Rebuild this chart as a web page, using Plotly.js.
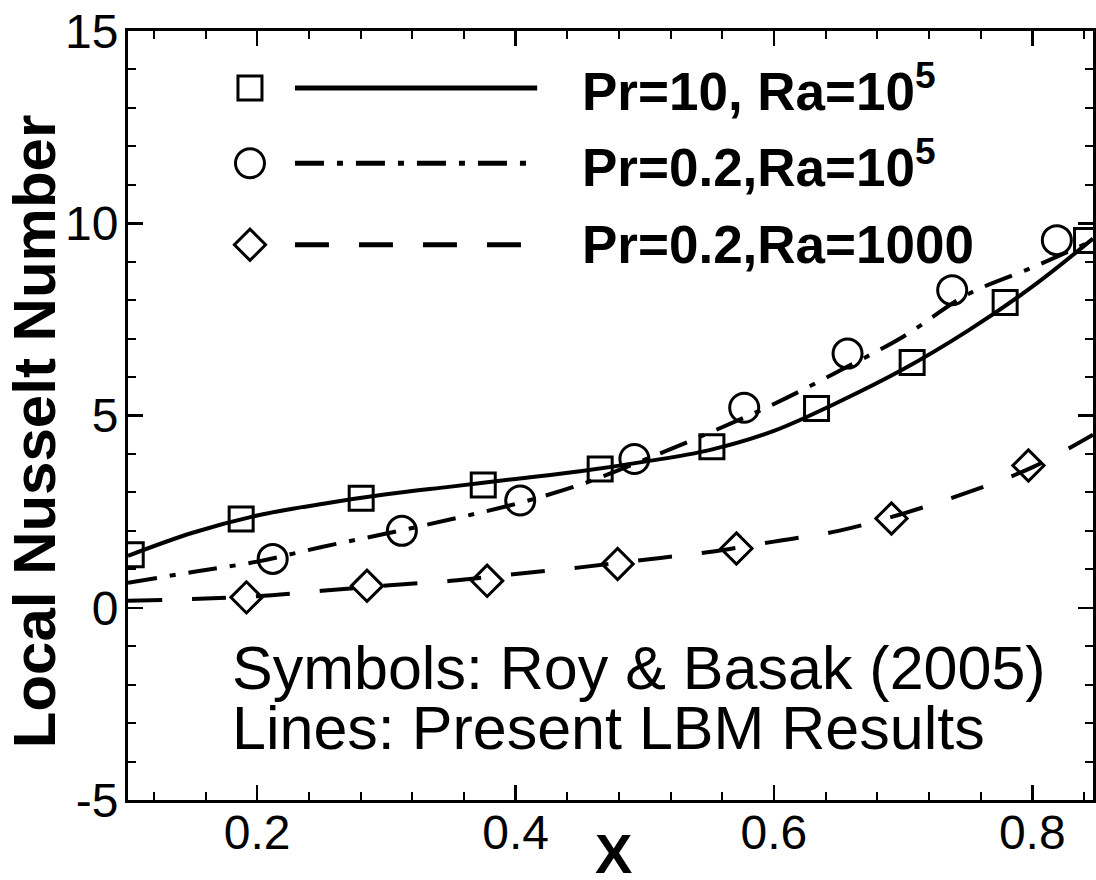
<!DOCTYPE html>
<html>
<head>
<meta charset="utf-8">
<script src="https://cdn.plot.ly/plotly-3.0.1.min.js"></script>
<style>html,body{margin:0;padding:0;background:#fff;}#chart{width:1096px;height:880px;}</style>
</head>
<body>
<div id="chart"></div>
<script>
// ---- data ----
const seriesNames = ['Pr=10, Ra=10<sup>5</sup>', 'Pr=0.2,Ra=10<sup>5</sup>', 'Pr=0.2,Ra=1000'];

// LBM lines (present results)
const lineX = [0.1, 0.15, 0.2, 0.25, 0.3, 0.35, 0.4, 0.45, 0.5, 0.55, 0.6, 0.65, 0.7, 0.75, 0.8, 0.847];
const linePr10Ra1e5 = [1.35, 1.95, 2.4, 2.7, 2.95, 3.15, 3.35, 3.55, 3.8, 4.1, 4.6, 5.35, 6.2, 7.2, 8.35, 9.6];
const linePr02Ra1e5 = [0.65, 0.93, 1.2, 1.58, 1.93, 2.3, 2.7, 3.2, 3.85, 4.55, 5.3, 6.15, 7.05, 8.15, 8.85, 9.55];
const linePr02Ra1e3 = [0.18, 0.23, 0.3, 0.44, 0.58, 0.7, 0.88, 1.05, 1.25, 1.45, 1.72, 2.0, 2.45, 3.0, 3.65, 4.5];

// Roy & Basak (2005) symbols
const squareX = [0.1025, 0.1876, 0.2805, 0.375, 0.4655, 0.552, 0.633, 0.707, 0.779, 0.842];
const squareY = [1.38, 2.31, 2.85, 3.19, 3.61, 4.19, 5.18, 6.38, 7.94, 9.55];
const circleX = [0.212, 0.312, 0.4036, 0.492, 0.577, 0.657, 0.738, 0.819];
const circleY = [1.27, 2.0, 2.79, 3.87, 5.2, 6.61, 8.26, 9.56];
const diamondX = [0.1917, 0.285, 0.378, 0.479, 0.571, 0.691, 0.797];
const diamondY = [0.27, 0.57, 0.70, 1.14, 1.54, 2.32, 3.70];

// ticks
const xTickVals = [0.2, 0.4, 0.6, 0.8];
const xTickText = ['0.2', '0.4', '0.6', '0.8'];
const yTickVals = [-5, 0, 5, 10, 15];
const yTickText = ['-5', '0', '5', '10', '15'];

// ---- styles ----
const FONT = 'Liberation Sans, Arial, Helvetica, sans-serif';
const lineW = 4;
const dashDot = '29px,13px,6px,13px';
const dashed = '34px,30px';
const symbols = ['square-open', 'circle-open', 'diamond-open'];
const symSizes = [24, 29, 24];
const dashes = ['solid', dashDot, dashed];

const traces = [
  {x: lineX, y: linePr10Ra1e5, mode: 'lines', line: {color: '#000', width: lineW, dash: 'solid', shape: 'spline', smoothing: 1}, showlegend: false, hoverinfo: 'skip'},
  {x: lineX, y: linePr02Ra1e5, mode: 'lines', line: {color: '#000', width: lineW, dash: dashDot, shape: 'spline', smoothing: 1}, showlegend: false, hoverinfo: 'skip'},
  {x: lineX, y: linePr02Ra1e3, mode: 'lines', line: {color: '#000', width: lineW, dash: dashed, shape: 'spline', smoothing: 1}, showlegend: false, hoverinfo: 'skip'},
  {x: squareX, y: squareY, mode: 'markers', marker: {symbol: symbols[0], size: symSizes[0], color: '#000', line: {width: 3, color: '#000'}}, showlegend: false},
  {x: circleX, y: circleY, mode: 'markers', marker: {symbol: symbols[1], size: symSizes[1], color: '#000', line: {width: 3, color: '#000'}}, showlegend: false},
  {x: diamondX, y: diamondY, mode: 'markers', marker: {symbol: symbols[2], size: symSizes[2], color: '#000', line: {width: 3, color: '#000'}}, showlegend: false}
];

// ---- hand-built legend on an overlay axis (0..1 space) ----
const legRows = [0.926, 0.828, 0.722];
const legMarkX = 0.1264, legLine0 = 0.173, legLine1 = 0.424, legTextX = 0.468;
const annotations = [];
for (let i = 0; i < 3; i++) {
  traces.push({x: [legMarkX], y: [legRows[i]], xaxis: 'x2', yaxis: 'y2', mode: 'markers',
    marker: {symbol: symbols[i], size: symSizes[i], color: '#000', line: {width: 3, color: '#000'}}, showlegend: false, hoverinfo: 'skip'});
  traces.push({x: [legLine0, legLine1], y: [legRows[i], legRows[i]], xaxis: 'x2', yaxis: 'y2', mode: 'lines',
    line: {color: '#000', width: 5, dash: dashes[i]}, showlegend: false, hoverinfo: 'skip'});
  annotations.push({xref: 'paper', yref: 'paper', x: legTextX, y: legRows[i], xanchor: 'left', yanchor: 'middle',
    text: '<b>' + seriesNames[i] + '</b>', showarrow: false, font: {family: FONT, size: 53, color: '#000'}});
}
annotations.push({xref: 'paper', yref: 'paper', x: 0.1057, y: 0.172, xanchor: 'left', yanchor: 'middle',
  text: 'Symbols: Roy &amp; Basak (2005)', showarrow: false, font: {family: FONT, size: 61, color: '#000'}});
annotations.push({xref: 'paper', yref: 'paper', x: 0.1057, y: 0.093, xanchor: 'left', yanchor: 'middle',
  text: 'Lines: Present LBM Results', showarrow: false, font: {family: FONT, size: 61, color: '#000'}});
// axis titles as annotations
annotations.push({xref: 'paper', yref: 'paper', x: 0.503, y: -0.07, xanchor: 'center', yanchor: 'middle',
  text: '<b>X</b>', showarrow: false, font: {family: FONT, size: 56, color: '#000'}});
annotations.push({xref: 'paper', yref: 'paper', x: -0.096, y: 0.48, xanchor: 'center', yanchor: 'middle', textangle: -90,
  text: '<b>Local Nusselt Number</b>', showarrow: false, font: {family: FONT, size: 60, color: '#000'}});

const axisFont = {family: FONT, size: 48, color: '#000'};
const layout = {
  width: 1096, height: 880,
  margin: {l: 128, r: 3, t: 31, b: 80},
  paper_bgcolor: '#fff', plot_bgcolor: '#fff',
  showlegend: false,
  xaxis: {range: [0.1, 0.847], tickvals: xTickVals, ticktext: xTickText, ticks: 'inside', ticklen: 15, tickwidth: 2.5,
    tickcolor: '#000', showline: true, linewidth: 3, linecolor: '#000', mirror: 'ticks', showgrid: false, zeroline: false,
    tickfont: axisFont, ticklabelstandoff: -12,
    minor: {ticks: 'inside', ticklen: 8, tickwidth: 2, tickcolor: '#000', dtick: 0.04, tick0: 0.2, showgrid: false}},
  yaxis: {range: [-5, 15], tickvals: yTickVals, ticktext: yTickText, ticks: 'inside', ticklen: 15, tickwidth: 2.5,
    tickcolor: '#000', showline: true, linewidth: 3, linecolor: '#000', mirror: 'ticks', showgrid: false, zeroline: false,
    tickfont: axisFont, ticklabelstandoff: -3,
    minor: {ticks: 'inside', ticklen: 8, tickwidth: 2, tickcolor: '#000', dtick: 1, tick0: 0, showgrid: false}},
  xaxis2: {overlaying: 'x', range: [0, 1], visible: false, fixedrange: true},
  yaxis2: {overlaying: 'y', range: [0, 1], visible: false, fixedrange: true},
  annotations: annotations
};

Plotly.newPlot('chart', traces, layout, {staticPlot: true, displayModeBar: false});
</script>
</body>
</html>
